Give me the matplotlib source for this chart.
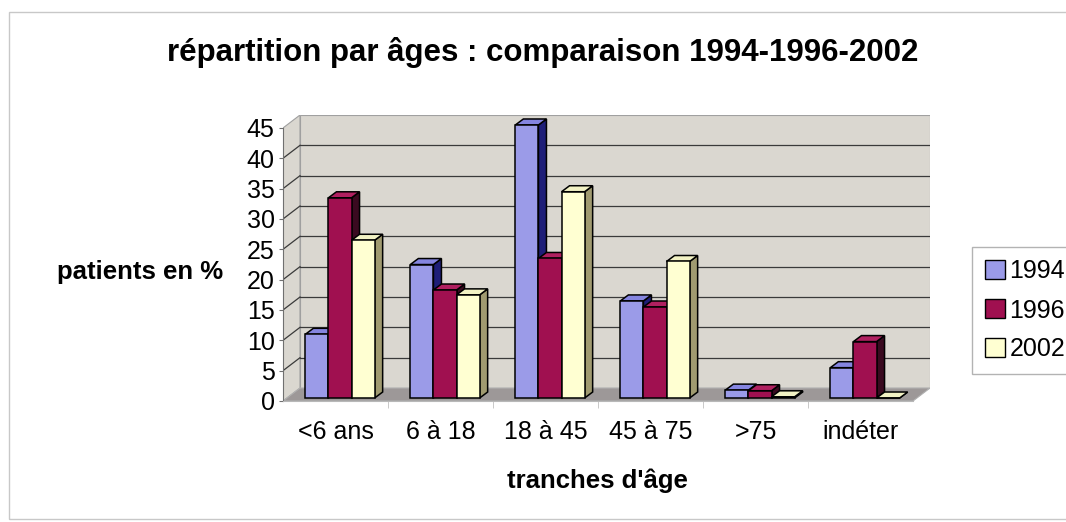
import matplotlib.pyplot as plt
from matplotlib.patches import Polygon, Patch, Rectangle

plt.rcParams["font.family"] = ["Liberation Sans", "DejaVu Sans"]

# données
categories = ["<6 ans", "6 à 18", "18 à 45", "45 à 75", ">75", "indéter"]
annees = ["1994", "1996", "2002"]
v1994 = [10.5, 22, 45, 16, 1.3, 5]
v1996 = [33, 17.8, 23, 15, 1.2, 9.3]
v2002 = [26, 17, 34, 22.5, 0.2, 0]
yticks = list(range(0, 50, 5))

couleurs = ["#9b9be8", "#a01050", "#ffffd2"]
cotes = ["#1e1e78", "#3a0a20", "#a09a70"]
dessus = ["#8585e0", "#b02060", "#f2f2c4"]

W, H = 1066, 522
fig = plt.figure(figsize=(W / 100, H / 100), dpi=100)
fig.patches.append(Rectangle((9 / W, 1 - 519 / H), 1.2, 507 / H, transform=fig.transFigure,
                             fill=False, edgecolor="#c8c8c8", lw=1))

ax = fig.add_axes([283 / W, 1 - 401 / H, 647 / W, 286 / H])
n = len(categories)
px_x = 105.0      # pixels par catégorie
px_y = 6.08       # pixels par unité
WX, WY = 17 / px_x, 13 / px_y      # profondeur des murs
ax.set_xlim(0, n + WX)
ax.set_ylim(0, yticks[-1] + WY)

mur = "#dad7d0"
sol = "#9d9898"
ymax = yticks[-1]
# mur du fond et mur gauche
ax.add_patch(Polygon([(WX, WY), (n + WX, WY), (n + WX, ymax + WY), (WX, ymax + WY)],
                     closed=True, facecolor=mur, edgecolor="#a0a0a0", lw=0.8, zorder=0))
ax.add_patch(Polygon([(0, 0), (WX, WY), (WX, ymax + WY), (0, ymax)],
                     closed=True, facecolor=mur, edgecolor="#a0a0a0", lw=0.8, zorder=0))
# sol
ax.add_patch(Polygon([(0, 0), (n, 0), (n + WX, WY), (WX, WY)],
                     closed=True, facecolor=sol, edgecolor="#b0b0b0", lw=0.8, zorder=1))
# quadrillage
for y in yticks[1:-1]:
    ax.plot([WX, n + WX], [y + WY, y + WY], color="#3a3a3a", lw=0.9, zorder=0.5)
    ax.plot([0, WX], [y, y + WY], color="#3a3a3a", lw=0.9, zorder=0.5)

# barres en pseudo 3D
bw = 0.22
bdx, bdy = 4.5 / px_x, 3 / px_y      # recul des barres
ddx, ddy = 8 / px_x, 6 / px_y        # profondeur des barres
series = [v1994, v1996, v2002]
z = 2
for i in range(n):
    for k, vals in enumerate(series):
        h = vals[i]
        x0 = i + 0.5 + (k - 1) * bw - bw / 2 + bdx
        y0 = bdy
        ax.add_patch(Polygon([(x0 + bw, y0), (x0 + bw + ddx, y0 + ddy), (x0 + bw + ddx, y0 + h + ddy), (x0 + bw, y0 + h)],
                             closed=True, facecolor=cotes[k], edgecolor="black", lw=1.1, zorder=z))
        ax.add_patch(Polygon([(x0, y0 + h), (x0 + ddx, y0 + h + ddy), (x0 + bw + ddx, y0 + h + ddy), (x0 + bw, y0 + h)],
                             closed=True, facecolor=dessus[k], edgecolor="black", lw=1.1, zorder=z))
        ax.bar(x0, h, width=bw, bottom=y0, align="edge", color=couleurs[k],
               edgecolor="black", lw=1.1, zorder=z + 0.5)
        z += 1

for s in ["top", "right"]:
    ax.spines[s].set_visible(False)
ax.spines["left"].set_bounds(0, ymax)
ax.spines["left"].set_color("#707070")
ax.spines["bottom"].set_bounds(0, n)
ax.spines["bottom"].set_color("#b8b8b8")

ax.set_yticks(yticks)
ax.set_yticklabels([str(t) for t in yticks], fontsize=18)
ax.tick_params(axis="y", length=3, pad=3, color="#707070")
ax.set_xticks([i + 0.5 for i in range(n)])
ax.set_xticklabels(categories, fontsize=18)
ax.set_xticks(list(range(1, n)), minor=True)
ax.tick_params(axis="x", which="major", length=0, pad=14)
ax.tick_params(axis="x", which="minor", length=5, color="#c0c0c0")

fig.text(543 / W, 1 - 52 / H, "répartition par âges : comparaison 1994-1996-2002",
         ha="center", va="center", fontsize=22.5, fontweight="bold")
fig.text(140 / W, 1 - 272 / H, "patients en %", ha="center", va="center",
         fontsize=18.5, fontweight="bold")
fig.text(597 / W, 1 - 481 / H, "tranches d'âge", ha="center", va="center",
         fontsize=18.5, fontweight="bold")

poignees = [Patch(facecolor=c, edgecolor="black", lw=1) for c in couleurs]
leg = fig.legend(poignees, annees, loc="upper left", bbox_to_anchor=(972 / W, 1 - 247 / H),
                 borderaxespad=0, fontsize=18, frameon=True, fancybox=False,
                 handlelength=0.8, handleheight=0.8, handletextpad=0.2,
                 labelspacing=0.6, borderpad=0.5)
leg.get_frame().set_edgecolor("#a0a0a0")
leg.get_frame().set_linewidth(1)

fig.savefig("out.png", dpi=100)
